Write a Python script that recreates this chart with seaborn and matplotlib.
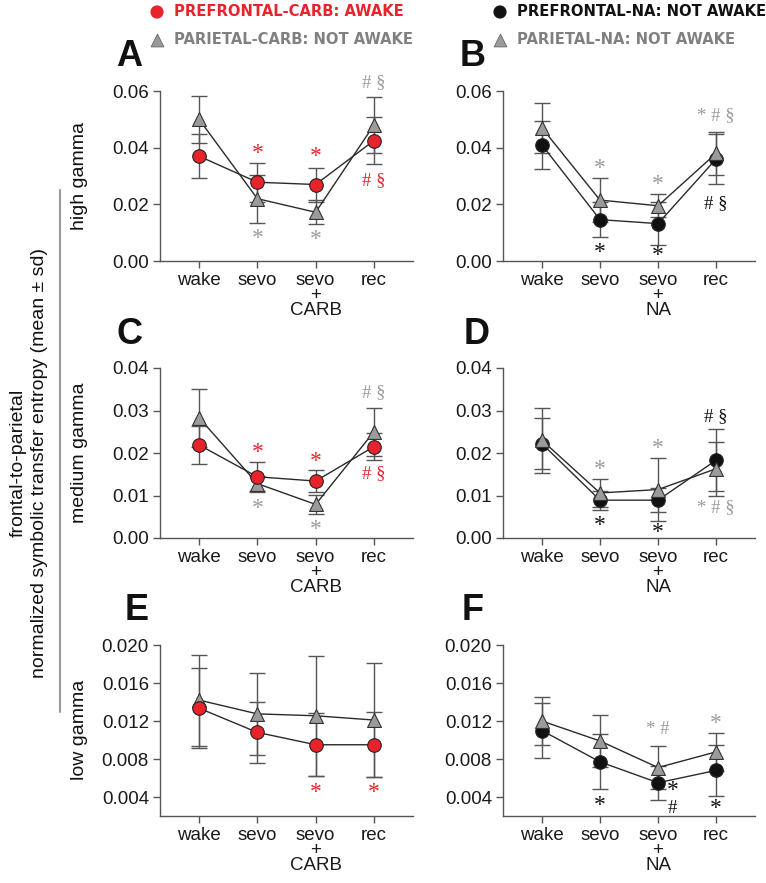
import numpy as np
import pandas as pd
import seaborn as sns
import matplotlib.pyplot as plt
from matplotlib.lines import Line2D

## Data (mean and sd per condition)

conditions = [0, 1, 2, 3]
labels_carb = ["wake", "sevo", "sevo\n+\nCARB", "rec"]
labels_na = ["wake", "sevo", "sevo\n+\nNA", "rec"]

# A: high gamma, CARB
a_pref_mean = [0.0370, 0.0278, 0.0270, 0.0425]
a_pref_sd = [0.0077, 0.0068, 0.0060, 0.0083]
a_par_mean = [0.0500, 0.0220, 0.0172, 0.0480]
a_par_sd = [0.0082, 0.0085, 0.0043, 0.0100]

# B: high gamma, NA
b_pref_mean = [0.0410, 0.0146, 0.0132, 0.0360]
b_pref_sd = [0.0085, 0.0061, 0.0077, 0.0088]
b_par_mean = [0.0470, 0.0215, 0.0195, 0.0380]
b_par_sd = [0.0088, 0.0077, 0.0041, 0.0075]

# C: medium gamma, CARB
c_pref_mean = [0.0219, 0.0144, 0.0134, 0.0215]
c_pref_sd = [0.0044, 0.0034, 0.0025, 0.0031]
c_par_mean = [0.0283, 0.0128, 0.0079, 0.0250]
c_par_sd = [0.0068, 0.0019, 0.0022, 0.0057]

# D: medium gamma, NA
d_pref_mean = [0.0222, 0.0089, 0.0089, 0.0183]
d_pref_sd = [0.0060, 0.0022, 0.0028, 0.0073]
d_par_mean = [0.0230, 0.0106, 0.0114, 0.0163]
d_par_sd = [0.0076, 0.0032, 0.0074, 0.0063]

# E: low gamma, CARB
e_pref_mean = [0.01335, 0.0108, 0.0095, 0.0095]
e_pref_sd = [0.0042, 0.0032, 0.0033, 0.0034]
e_par_mean = [0.0142, 0.01275, 0.01255, 0.0121]
e_par_sd = [0.0048, 0.0043, 0.0063, 0.0060]

# F: low gamma, NA
f_pref_mean = [0.0110, 0.0077, 0.0055, 0.0068]
f_pref_sd = [0.0029, 0.0029, 0.0018, 0.0027]
f_par_mean = [0.0120, 0.0099, 0.0071, 0.00875]
f_par_sd = [0.0025, 0.0027, 0.0023, 0.0020]

RED = "#e8232b"
GRAY = "#9b9b9b"
GRAY_TXT = "#808080"
BLACK = "#111111"

# significance marks: (x, y, text, colour)
marks_a = [(1, 0.0390, "*", RED), (1, 0.0090, "*", GRAY), (2, 0.0376, "*", RED),
           (2, 0.0083, "*", GRAY), (3, 0.0636, "# §", GRAY), (3, 0.0290, "# §", RED)]
marks_b = [(1, 0.0336, "*", GRAY), (1, 0.0040, "*", BLACK), (2, 0.0280, "*", GRAY),
           (2, 0.0027, "*", BLACK), (3, 0.0520, "* # §", GRAY), (3, 0.0210, "# §", BLACK)]
marks_c = [(1, 0.0206, "*", RED), (1, 0.0075, "*", GRAY), (2, 0.0187, "*", RED),
           (2, 0.0026, "*", GRAY), (3, 0.0347, "# §", GRAY), (3, 0.0156, "# §", RED)]
marks_d = [(1, 0.0167, "*", GRAY), (1, 0.0035, "*", BLACK), (2, 0.0216, "*", GRAY),
           (2, 0.0018, "*", BLACK), (3, 0.0290, "# §", BLACK), (3, 0.0077, "* # §", GRAY)]
marks_e = [(2, 0.0047, "*", RED), (3, 0.0047, "*", RED)]
marks_f = [(1, 0.0034, "*", BLACK), (2, 0.0113, "* #", GRAY), (2.25, 0.0049, "*", BLACK),
           (2.25, 0.0030, "#", BLACK), (3, 0.0120, "*", GRAY), (3, 0.0030, "*", BLACK)]

sns.set_style("ticks")
plt.rcParams["font.family"] = ["Liberation Sans", "DejaVu Sans"]

W, H = 766, 883
fig = plt.figure(figsize=(W / 100, H / 100), dpi=100)
SERIF = ["Liberation Serif", "DejaVu Serif"]


def px_axes(left, top, right, bottom):
    return fig.add_axes([left / W, 1 - bottom / H, (right - left) / W, (bottom - top) / H])


def draw_panel(ax, pref_m, pref_s, par_m, par_s, pref_col, xlabels, ylim, yticks, fmt,
               marks, tri_on_top):
    df = pd.DataFrame({"cond": conditions, "pref": pref_m, "pref_sd": pref_s,
                       "par": par_m, "par_sd": par_s})
    for col, sd in [("pref", "pref_sd"), ("par", "par_sd")]:
        ax.errorbar(df["cond"], df[col], yerr=df[sd], fmt="none", ecolor="#555555",
                    elinewidth=1.0, capsize=5.5, capthick=1.0, zorder=1)
        sns.lineplot(data=df, x="cond", y=col, color="#2a2a2a", linewidth=1.0,
                     ax=ax, zorder=2, legend=False)
    z_tri, z_circ = (5, 4) if tri_on_top else (4, 5)
    sns.scatterplot(data=df, x="cond", y="pref", marker="o", s=95, color=pref_col,
                    edgecolor="#222222", linewidth=0.8, ax=ax, zorder=z_circ, legend=False)
    sns.scatterplot(data=df, x="cond", y="par", marker="^", s=100, color=GRAY,
                    edgecolor="#333333", linewidth=0.8, ax=ax, zorder=z_tri, legend=False)
    for x, y, t, c in marks:
        size = 17 if t == "*" else 13.5
        ax.text(x, y, t, color=c, ha="center", va="center_baseline", fontsize=size,
                family=SERIF, clip_on=False)
    ax.set_xlim(-0.67, 3.67)
    ax.set_ylim(*ylim)
    ax.set_yticks(yticks)
    ax.set_yticklabels([fmt.format(v) for v in yticks])
    ax.set_xticks(conditions)
    ax.set_xticklabels(xlabels, linespacing=0.85)
    ax.set_xlabel("")
    ax.set_ylabel("")
    sns.despine(ax=ax)
    for s in ["left", "bottom"]:
        ax.spines[s].set_color("#555555")
        ax.spines[s].set_linewidth(1.0)
    ax.tick_params(direction="out", length=5, width=1.0, color="#555555",
                   labelsize=13.5, labelcolor="#1a1a1a", pad=3)


axA = px_axes(160, 91, 413, 261)
axB = px_axes(503, 91, 755, 261)
axC = px_axes(160, 368, 413, 538)
axD = px_axes(503, 368, 755, 538)
axE = px_axes(160, 645, 413, 816)
axF = px_axes(503, 645, 755, 816)

draw_panel(axA, a_pref_mean, a_pref_sd, a_par_mean, a_par_sd, RED, labels_carb,
           (0, 0.06), [0, 0.02, 0.04, 0.06], "{:.2f}", marks_a, False)
draw_panel(axB, b_pref_mean, b_pref_sd, b_par_mean, b_par_sd, BLACK, labels_na,
           (0, 0.06), [0, 0.02, 0.04, 0.06], "{:.2f}", marks_b, True)
draw_panel(axC, c_pref_mean, c_pref_sd, c_par_mean, c_par_sd, RED, labels_carb,
           (0, 0.04), [0, 0.01, 0.02, 0.03, 0.04], "{:.2f}", marks_c, False)
draw_panel(axD, d_pref_mean, d_pref_sd, d_par_mean, d_par_sd, BLACK, labels_na,
           (0, 0.04), [0, 0.01, 0.02, 0.03, 0.04], "{:.2f}", marks_d, True)
draw_panel(axE, e_pref_mean, e_pref_sd, e_par_mean, e_par_sd, RED, labels_carb,
           (0.002, 0.020), [0.004, 0.008, 0.012, 0.016, 0.020], "{:.3f}", marks_e, False)
draw_panel(axF, f_pref_mean, f_pref_sd, f_par_mean, f_par_sd, BLACK, labels_na,
           (0.002, 0.020), [0.004, 0.008, 0.012, 0.016, 0.020], "{:.3f}", marks_f, True)

## Figure-level overlay (legend, panel letters, shared labels), in pixels
ov = fig.add_axes([0, 0, 1, 1], zorder=-1)
ov.set_xlim(0, W)
ov.set_ylim(H, 0)
ov.axis("off")

leg_font = dict(fontsize=10.6, fontweight="bold", va="center", ha="left",
                family=["DejaVu Sans"])
ov.scatter([157], [12], marker="o", s=90, color=RED, edgecolor="none")
ov.text(174, 12, "PREFRONTAL-CARB: AWAKE", color=RED, **leg_font)
ov.scatter([157], [40], marker="^", s=85, color=GRAY, edgecolor="#666666", linewidth=0.6)
ov.text(174, 40, "PARIETAL-CARB: NOT AWAKE", color=GRAY_TXT, **leg_font)
ov.scatter([500], [12], marker="o", s=90, color=BLACK, edgecolor="none")
ov.text(517, 12, "PREFRONTAL-NA: NOT AWAKE", color=BLACK, **leg_font)
ov.scatter([500], [40], marker="^", s=85, color=GRAY, edgecolor="#666666", linewidth=0.6)
ov.text(517, 40, "PARIETAL-NA: NOT AWAKE", color=GRAY_TXT, **leg_font)

for letter, x, y in [("A", 129, 56), ("B", 473, 56), ("C", 130, 334),
                     ("D", 477, 334), ("E", 137, 611), ("F", 473, 611)]:
    ov.text(x, y, letter, fontsize=26, fontweight="bold", ha="center", va="center",
            color="#111111")

for lab, yc in [("high gamma", 176), ("medium gamma", 453), ("low gamma", 730)]:
    ov.text(79, yc, lab, rotation=90, ha="center", va="center", fontsize=14,
            color="#111111")

ov.text(18, 463, "frontal-to-parietal", rotation=90, ha="center", va="center",
        fontsize=14, color="#111111")
ov.text(40, 463, "normalized symbolic transfer entropy (mean ± sd)", rotation=90,
        ha="center", va="center", fontsize=14, color="#111111")
ov.add_line(Line2D([60, 60], [190, 712], color="#9a9a9a", linewidth=1.5))

fig.savefig("out.png", dpi=100)
